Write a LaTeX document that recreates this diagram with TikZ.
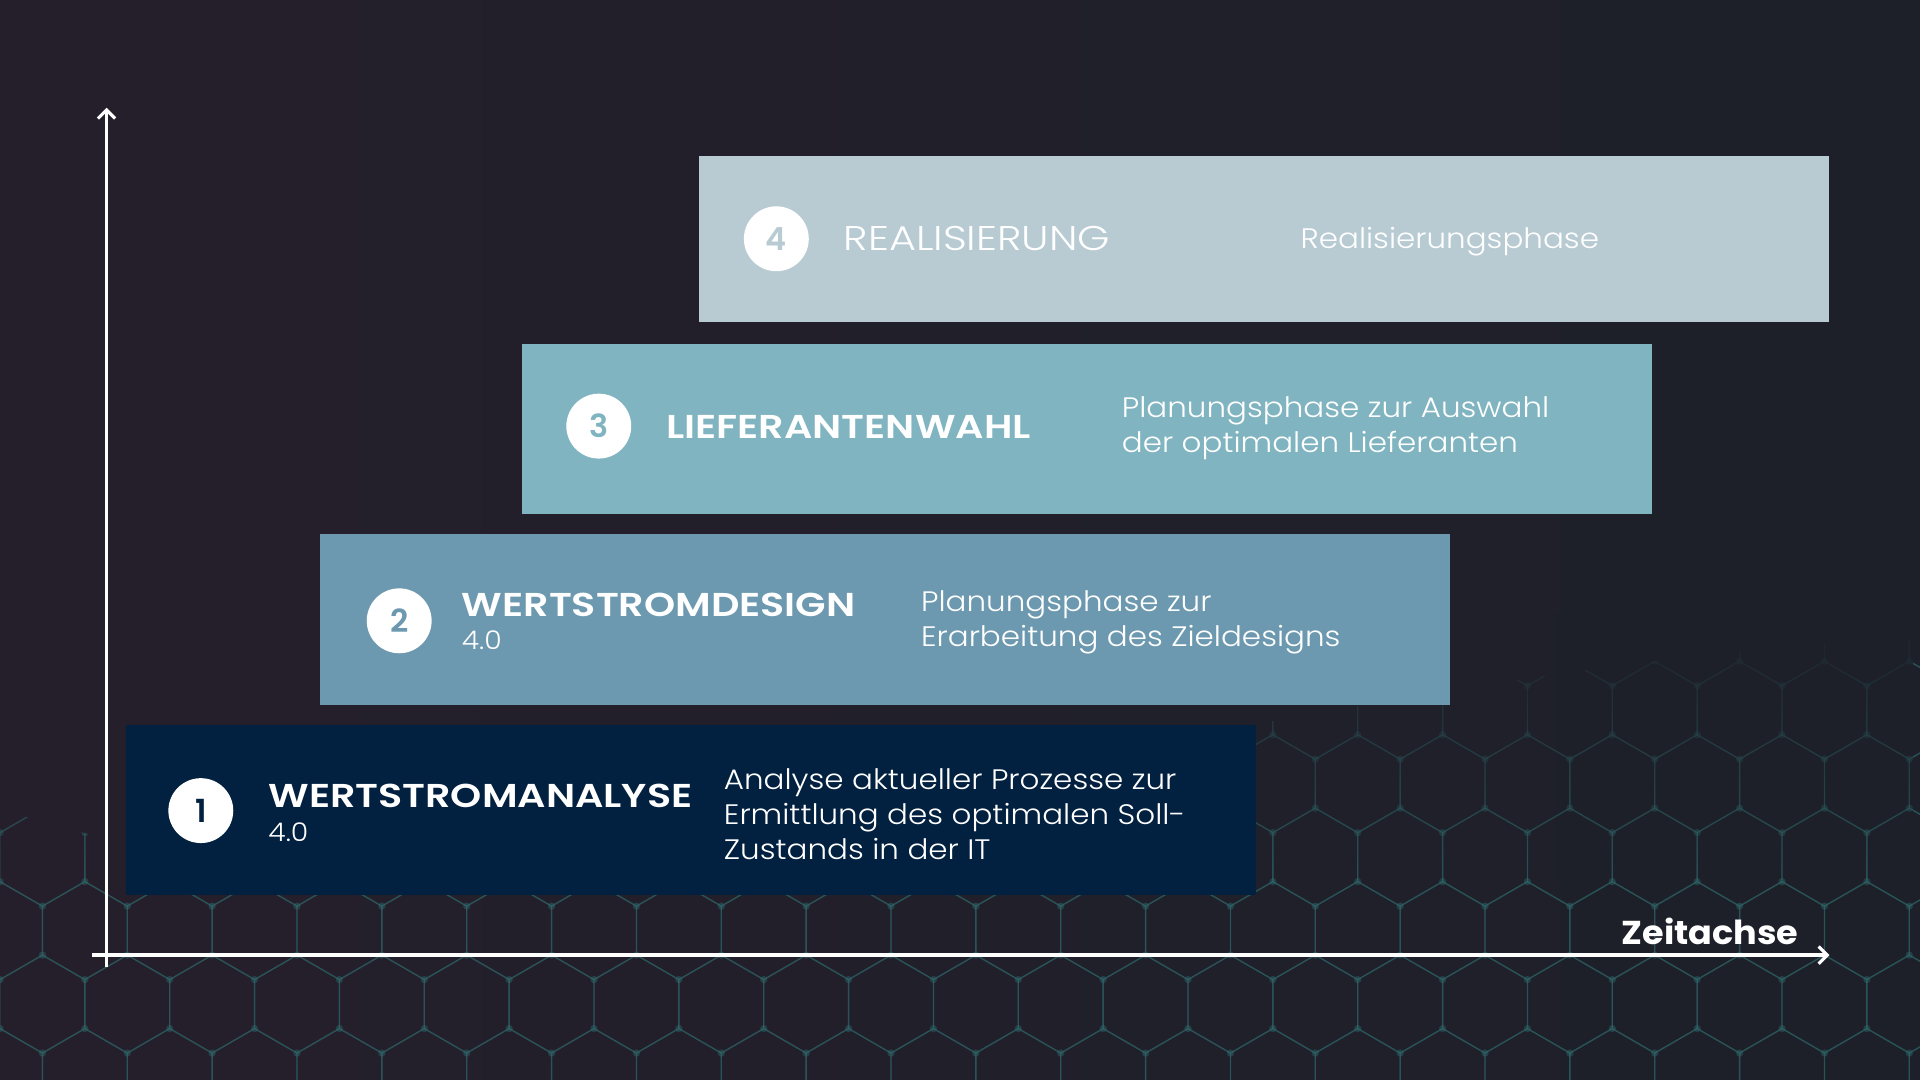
\documentclass[tikz,border=0pt]{standalone}
\usepackage{fontspec}
\setmainfont{Poppins}[UprightFont=*-Light, BoldFont=*-SemiBold]
\newfontfamily\titlef{Poppins}[UprightFont=*-SemiBold, FakeStretch=1.2]
\newfontfamily\thinf{Poppins}[UprightFont=*-Light, FakeStretch=1.21]
\newfontfamily\descf{Poppins}[UprightFont=*-Light, FakeStretch=1.1]
\newfontfamily\boldf{Poppins}[UprightFont=*-Bold, FakeStretch=1.06]
\usetikzlibrary{arrows.meta,fadings}
\definecolor{bgL}{HTML}{251F2B}
\definecolor{bgR}{HTML}{1D2029}
\definecolor{cA}{HTML}{02203F}
\definecolor{cB}{HTML}{6C99AF}
\definecolor{cC}{HTML}{7FB4C0}
\definecolor{cD}{HTML}{B8CBD3}
\definecolor{mesh}{HTML}{2F6E70}
\tikzfading[name=meshfade, top color=transparent!0, bottom color=transparent!100]
\tikzset{
  phase/.style={draw=none, inner sep=0pt, anchor=north west},
  num/.style={circle, fill=white, minimum size=53pt, inner sep=0pt, font=\fontsize{26}{26}\selectfont\bfseries},
  ttl/.style={anchor=west, inner sep=0pt, text=white, font=\fontsize{27}{27}\selectfont\titlef},
  ver/.style={anchor=west, inner sep=0pt, text=white, font=\fontsize{21}{21}\selectfont\descf},
  dsc/.style={anchor=west, inner sep=0pt, text=white, align=left, font=\fontsize{23}{28.5}\selectfont\descf},
  axis/.style={draw=white, line width=3pt, -{Straight Barb[length=7pt,width=14pt,line width=2.5pt]}}
}
\begin{document}
\begin{tikzpicture}[x=1pt,y=-1pt]
\useasboundingbox (0,0) rectangle (1568,882);
\shade[left color=bgL, right color=bgR] (0,0) rectangle (1568,882);
% network mesh
\begin{scope}
\clip (0,660) .. controls (400,800) and (900,560) .. (1568,520) -- (1568,882) -- (0,882) -- cycle;
\begin{scope}[draw=mesh, opacity=0.42, line width=1.1pt]
\foreach \r in {0,...,7}{
  \foreach \c in {0,...,23}{
    \pgfmathsetmacro{\cx}{\c*69.3 + mod(\r,2)*34.65}
    \pgfmathsetmacro{\cy}{520 + \r*60}
    \draw (\cx,\cy) +(90:40) -- +(150:40) -- +(210:40) -- +(270:40) -- +(330:40) -- +(30:40) -- cycle;
    \fill[mesh] (\cx,\cy) +(90:40) circle (3pt) +(150:40) circle (3pt);
  }
}
\end{scope}
\end{scope}
\shade[left color=bgL, right color=bgR, path fading=meshfade, fit fading=true] (0,500) rectangle (1568,720);
% axes
\coordinate (o) at (87,790);
\coordinate (ytop) at (87,88);
\coordinate (xl) at (75,780);
\coordinate (xr) at (1494,780);
\draw[axis] (o) -- (ytop);
\draw[axis] (xl) -- (xr);
\node[anchor=east, inner sep=0pt, text=white, font=\fontsize{27}{27}\selectfont\boldf] (zeit) at (1469,761) {Zeitachse};
% phase boxes
\fill[cD] (571,127) rectangle (1494,263);
\fill[cC] (426,281) rectangle (1349,420);
\fill[cB] (261,436) rectangle (1184,576);
\fill[cA] (103,592) rectangle (1026,731);
\node[phase, minimum width=923pt, minimum height=136pt] (p4) at (571,127) {};
\node[phase, minimum width=923pt, minimum height=139pt] (p3) at (426,281) {};
\node[phase, minimum width=923pt, minimum height=140pt] (p2) at (261,436) {};
\node[phase, minimum width=923pt, minimum height=139pt] (p1) at (103,592) {};
% numbers
\node[num, text=cA] (n1) at (164,662) {1};
\node[num, text=cB] (n2) at (326,507) {2};
\node[num, text=cC] (n3) at (489,348) {3};
\node[num, text=cD] (n4) at (634,195) {4};
% titles
\node[ttl] (t1) at (219,650) {WERTSTROMANALYSE};
\node[ver] (v1) at (219,680) {4.0};
\node[ttl] (t2) at (377,494) {WERTSTROMDESIGN};
\node[ver] (v2) at (377,523) {4.0};
\node[ttl] (t3) at (544,349) {LIEFERANTENWAHL};
\node[ttl, font=\fontsize{28}{28}\selectfont\thinf] (t4) at (689,195) {REALISIERUNG};
% descriptions
\node[dsc] (d1) at (591,665) {Analyse aktueller Prozesse zur\\Ermittlung des optimalen Soll-\\Zustands in der IT};
\node[dsc] (d2) at (752,508) {Planungsphase zur\\Erarbeitung des Zieldesigns};
\node[dsc] (d3) at (916,350) {Planungsphase zur Auswahl\\der optimalen Lieferanten};
\node[dsc] (d4) at (1062,197) {Realisierungsphase};
\end{tikzpicture}
\end{document}
